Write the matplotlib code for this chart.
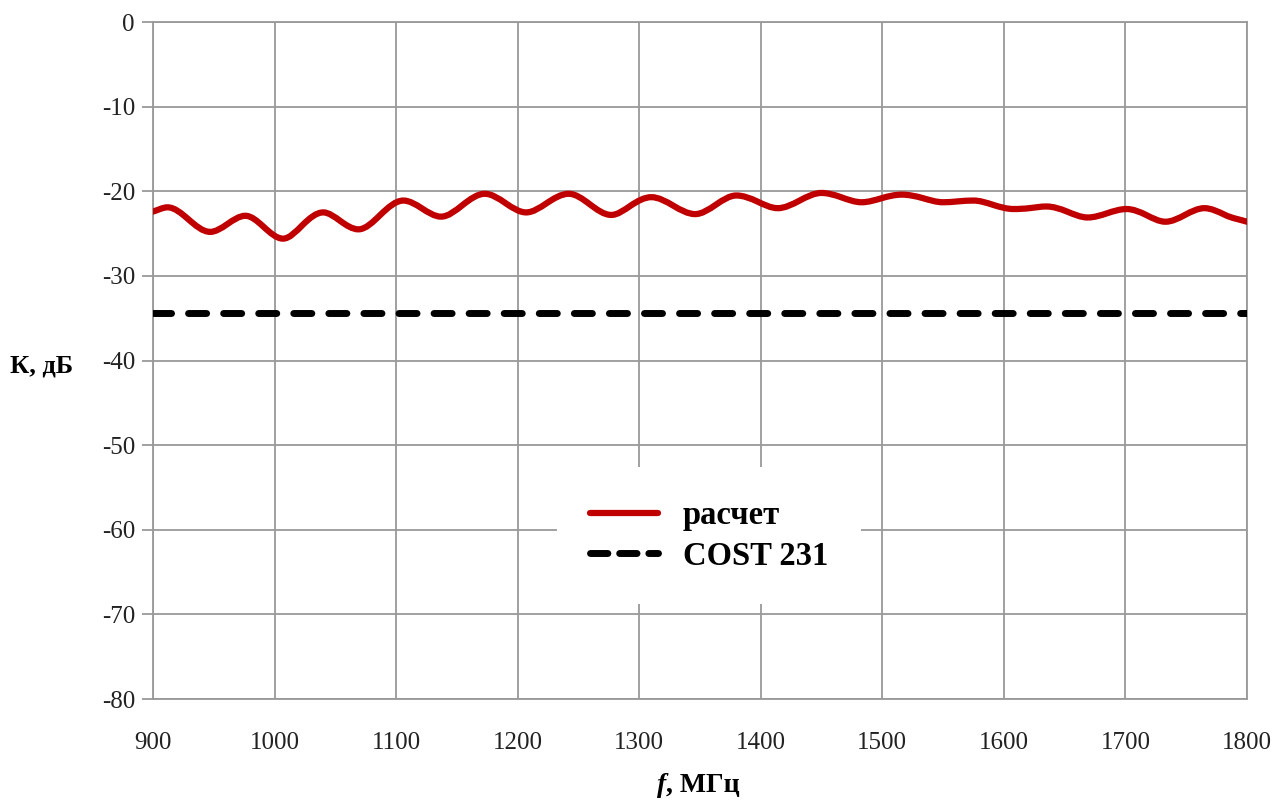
import matplotlib
matplotlib.use("Agg")
import matplotlib.pyplot as plt
from matplotlib.path import Path
from matplotlib.patches import PathPatch
from matplotlib.lines import Line2D

plt.rcParams["axes.unicode_minus"] = False

# (extrema and mid points of the ripple)
freq = [900, 912, 929, 947, 961, 976, 991, 1007, 1023, 1040, 1054, 1069, 1087,
        1106, 1121, 1137, 1155, 1173, 1190, 1207, 1224, 1242, 1259, 1277, 1293,
        1310, 1328, 1346, 1363, 1380, 1397, 1414, 1432, 1450, 1466, 1483, 1500,
        1516, 1533, 1550, 1562, 1575, 1591, 1608, 1621, 1635, 1652, 1669, 1685,
        1701, 1717, 1733, 1749, 1765, 1782, 1800]
k_calc = [-22.4, -21.9, -23.3, -24.8, -23.9, -22.9, -24.2, -25.6, -24.0, -22.5,
          -23.5, -24.5, -22.8, -21.1, -22.0, -23.0, -21.6, -20.3, -21.4, -22.5,
          -21.4, -20.3, -21.5, -22.8, -21.7, -20.7, -21.7, -22.7, -21.6, -20.5,
          -21.2, -22.0, -21.1, -20.2, -20.7, -21.3, -20.8, -20.4, -20.8, -21.3,
          -21.2, -21.1, -21.6, -22.1, -22.0, -21.8, -22.4, -23.1, -22.6, -22.1,
          -22.8, -23.6, -22.8, -22.0, -22.8, -23.6]
cost_f = [900, 1800]
cost_k = [-34.4, -34.4]

labels = ["расчет", "COST 231"]
red = "#C00000"
grid_c = "#999999"

fig = plt.figure(figsize=(12.78, 8), dpi=100)
ax = fig.add_axes([0.1197, 0.12625, 0.856, 0.84625])


def smooth_path(xs, ys):
    # hermite curve through the read points: flat at extrema, steeper between
    n = len(xs)
    slopes = []
    for i in range(n):
        if i == 0 or i == n - 1:
            j0, j1 = max(i - 1, 0), min(i + 1, n - 1)
            slopes.append((ys[j1] - ys[j0]) / (xs[j1] - xs[j0]))
        elif (ys[i] - ys[i - 1]) * (ys[i + 1] - ys[i]) <= 0:
            slopes.append(0.0)
        else:
            slopes.append(1.5 * (ys[i + 1] - ys[i - 1]) / (xs[i + 1] - xs[i - 1]))
    verts = [(xs[0], ys[0])]
    codes = [Path.MOVETO]
    for i in range(n - 1):
        d = (xs[i + 1] - xs[i]) / 3
        verts += [(xs[i] + d, ys[i] + slopes[i] * d),
                  (xs[i + 1] - d, ys[i + 1] - slopes[i + 1] * d),
                  (xs[i + 1], ys[i + 1])]
        codes += [Path.CURVE4] * 3
    return Path(verts, codes)


ax.add_patch(PathPatch(smooth_path(freq, k_calc), facecolor="none",
                       edgecolor=red, lw=4.5, capstyle="round", zorder=3))
cost_line, = ax.plot(cost_f, cost_k, color="black", lw=5,
                     dash_capstyle="round", zorder=3)
cost_line.set_dashes((2.6, 2.45))

ax.set_xlim(900, 1800)
ax.set_ylim(-80, 0)
ax.set_xticks(range(900, 1801, 100))
ax.set_yticks(range(-80, 1, 10))
ax.grid(True, color=grid_c, lw=1.3)
for s in ax.spines.values():
    s.set_color(grid_c)
    s.set_linewidth(1.3)
ax.tick_params(axis="y", direction="out", length=8, width=1.3, color=grid_c,
               pad=5)
ax.tick_params(axis="x", length=0, pad=24)
for t in ax.get_xticklabels() + ax.get_yticklabels():
    t.set_fontfamily("Liberation Serif")
    t.set_fontsize(18)
    t.set_color("#222222")

fig.text(0.008, 0.543, "К, дБ", fontfamily="Liberation Serif",
         fontweight="bold", fontsize=19, va="center", ha="left")
# axis label: italic bold "f" followed by upright bold unit
fig.text(0.521, 0.018, "f", fontfamily="Liberation Serif", fontweight="bold",
         fontstyle="italic", fontsize=20, va="center", ha="right")
fig.text(0.521, 0.018, ", МГц", fontfamily="Liberation Serif",
         fontweight="bold", fontsize=20, va="center", ha="left")

handles = [Line2D([], [], color=red, lw=4.5, solid_capstyle="round"),
           Line2D([], [], color="black", lw=5, dashes=(2.5, 1.7),
                  dash_capstyle="round")]
leg = ax.legend(handles, labels, loc="center", bbox_to_anchor=(0.508, 0.241),
                prop={"family": "Liberation Serif", "weight": "bold", "size": 23.5},
                frameon=True, fancybox=False, framealpha=1, edgecolor="none",
                handlelength=2.1, handletextpad=0.75, borderpad=1.0,
                labelspacing=0.3)
leg.set_zorder(5)

fig.savefig("out.png", dpi=100)
